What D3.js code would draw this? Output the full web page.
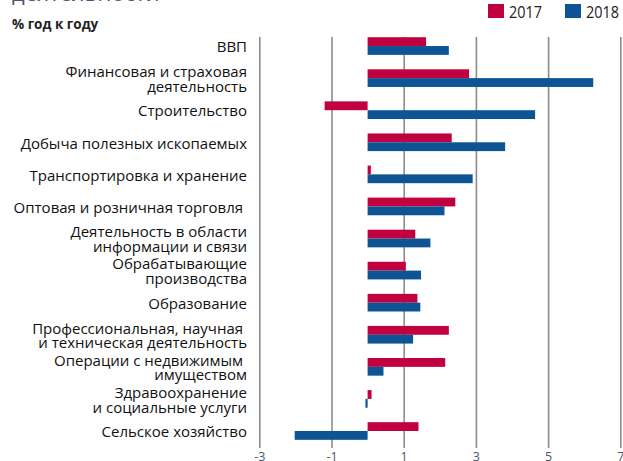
<!DOCTYPE html>
<html><head><meta charset="utf-8">
<script src="https://cdn.jsdelivr.net/npm/d3@7"></script>
<style>
html,body{margin:0;padding:0;background:#fff;}
svg{display:block;}
text{font-family:"Open Sans",sans-serif;}
</style></head>
<body><svg id="c" width="623" height="461"></svg>
<script>
const categories = [
  "ВВП",
  "Финансовая и страховая\nдеятельность",
  "Строительство",
  "Добыча полезных ископаемых",
  "Транспортировка и хранение",
  "Оптовая и розничная торговля ",
  "Деятельность в области\nинформации и связи",
  "Обрабатывающие\nпроизводства",
  "Образование",
  "Профессиональная, научная \nи техническая деятельность",
  "Операции с недвижимым \nимуществом",
  "Здравоохранение\nи социальные услуги",
  "Сельское хозяйство"
];
const series = ["2017", "2018"];
const values2017 = [1.62, 2.81, -1.19, 2.33, 0.09, 2.43, 1.32, 1.06, 1.38, 2.25, 2.15, 0.11, 1.41];
const values2018 = [2.25, 6.25, 4.64, 3.81, 2.91, 2.13, 1.74, 1.48, 1.46, 1.26, 0.44, -0.06, -2.02];
const tickValues = [-3, -1, 1, 3, 5, 7];
const unitLabel = "% год к году";
const titleTail = "деятельности";

const colors = {"2017": "#c0003f", "2018": "#0c5494"};

const svg = d3.select("#c");
const x = d3.scaleLinear().domain([-3, 7]).range([259.3, 620.3]);
const y = d3.scaleBand().domain(categories).range([30, 30 + 13 * 32.08]).paddingInner(0.45).paddingOuter(0.225);
const yIn = d3.scaleBand().domain(series).range([0, y.bandwidth()]);

// cut-off title
svg.append("text").attr("x", 12).attr("y", 1).attr("font-size", 22).attr("fill", "#4a5677").text(titleTail);

// unit label
svg.append("text").attr("x", 12).attr("y", 29).attr("font-size", 13.5).attr("font-weight", "bold")
  .attr("fill", "#222").text(unitLabel);

// grid / axis
const axis = d3.axisBottom(x).tickValues(tickValues).tickFormat(d => String(d)).tickSize(-(448 - 37)).tickPadding(4);
const g = svg.append("g").attr("transform", "translate(0,448)").call(axis);
g.select(".domain").remove();
g.selectAll(".tick line").attr("stroke", "#8c8c8c").attr("stroke-width", 1.6);
g.selectAll(".tick text").attr("fill", "#4e5566").attr("font-size", 12.5).attr("font-family", "Open Sans, sans-serif");

// bars
const data = categories.map((c, i) => ({cat: c, vals: [{s: "2017", v: values2017[i]}, {s: "2018", v: values2018[i]}]}));
const grp = svg.append("g").selectAll("g").data(data).join("g").attr("transform", d => `translate(0,${y(d.cat)})`);
grp.selectAll("rect").data(d => d.vals).join("rect")
  .attr("x", d => x(Math.min(0, d.v)))
  .attr("width", d => Math.abs(x(d.v) - x(0)))
  .attr("y", d => yIn(d.s))
  .attr("height", yIn.bandwidth())
  .attr("fill", d => colors[d.s]);

// category labels
const lab = svg.append("g").selectAll("text").data(categories).join("text")
  .attr("x", 247)
  .attr("text-anchor", "end")
  .attr("font-size", 15)
  .attr("fill", "#111")
  .style("white-space", "pre");
lab.each(function(d) {
  const lines = d.split("\n");
  const cy = y(d) + y.bandwidth() / 2 + 1;
  const lh = 14.8;
  const t = d3.select(this);
  lines.forEach((ln, k) => {
    t.append("tspan").attr("x", 247)
      .attr("y", cy + (k - (lines.length - 1) / 2) * lh)
      .attr("dy", "0.35em")
      .text(ln);
  });
});

// legend
const leg = svg.append("g");
const legX = [488, 565];
series.forEach((s, i) => {
  leg.append("rect").attr("x", legX[i]).attr("y", 4).attr("width", 16).attr("height", 14).attr("fill", colors[s]);
  leg.append("text").attr("x", legX[i] + 21).attr("y", 17.5).attr("font-size", 17)
    .attr("font-family", "Liberation Sans, sans-serif").attr("fill", "#222")
    .attr("textLength", 33).attr("lengthAdjust", "spacingAndGlyphs").text(s);
});
</script></body></html>
